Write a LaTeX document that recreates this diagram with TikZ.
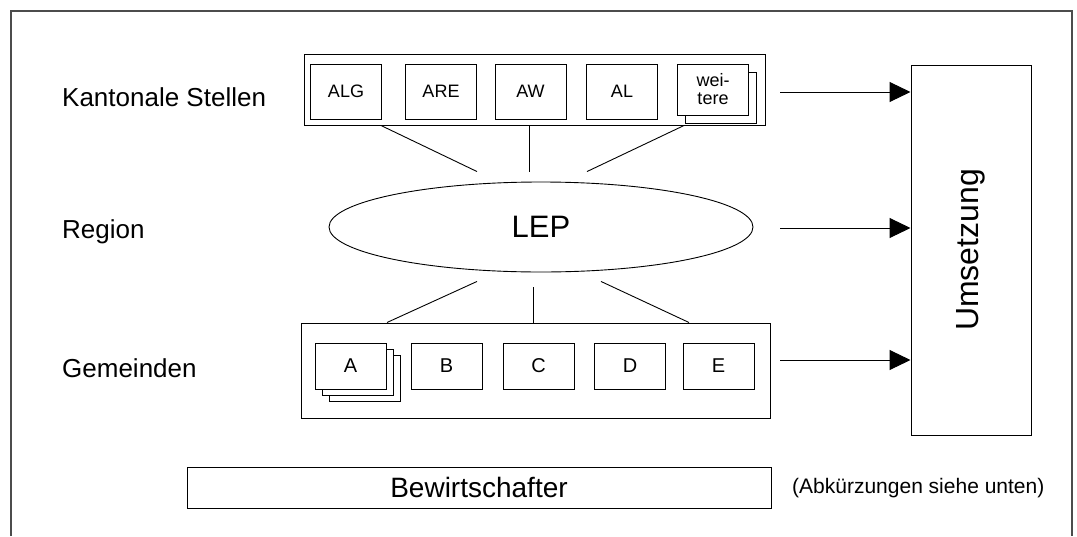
\documentclass[tikz,border=0pt]{standalone}
\usepackage{fontspec}
\setmainfont{Liberation Sans}
\usepackage{tikz}
\usetikzlibrary{shapes.geometric,arrows.meta,positioning}

\tikzset{
  frame/.style={draw=black!70, line width=1.8pt},
  group/.style={draw, line width=1pt, fill=white, inner sep=0pt},
  unit/.style={draw, line width=1pt, fill=white, inner sep=0pt,
    minimum width=71pt, minimum height=55pt, font=\fontsize{18}{19}\selectfont},
  gunit/.style={unit, minimum height=46pt, font=\fontsize{20}{22}\selectfont},
  level/.style={anchor=west, inner sep=0pt, font=\fontsize{26}{28}\selectfont},
  flow/.style={line width=1pt, -{Triangle[length=21pt,width=20pt]}},
  link/.style={line width=0.9pt}
}

\begin{document}
\begin{tikzpicture}[x=1pt, y=-1pt]
\useasboundingbox (0,0) rectangle (1077,536);
\draw[frame] (11,536) -- (11,11) -- (1072,11) -- (1072,536);

% level labels
\node[level] (lkst) at (62,97) {Kantonale Stellen};
\node[level] (lreg) at (62,232) {Region};
\node[level] (lgem) at (62,368) {Gemeinden};

% cantonal offices
\node[group, minimum width=461pt, minimum height=71pt] (kst) at (534.5,89.5) {};
\node[unit] (alg) at (346,91.5) {ALG};
\node[unit] (are) at (441,91.5) {ARE};
\node[unit] (aw)  at (530.5,91.5) {AW};
\node[unit] (al)  at (622,91.5) {AL};
\node[unit, minimum height=51pt] (weitere2) at (721,97.5) {};
\node[unit, minimum height=51pt, align=center] (weitere) at (713,89.5)
  {wei-\\[-1pt]tere};

% region
\node[draw, ellipse, line width=0.9pt, inner sep=0pt, minimum width=424pt,
  minimum height=90pt, font=\fontsize{31}{32}\selectfont] (lep) at (541,227) {LEP};

% municipalities
\node[group, minimum width=469pt, minimum height=95pt] (gem) at (535.5,370.5) {};
\node[gunit] (ga3) at (364.5,378.5) {};
\node[gunit] (ga2) at (357.5,372.5) {};
\node[gunit] (ga)  at (350.5,366) {A};
\node[gunit] (gb)  at (446.5,366) {B};
\node[gunit] (gc)  at (538.5,366) {C};
\node[gunit] (gd)  at (630,366) {D};
\node[gunit] (ge)  at (718.5,366) {E};

% implementation
\node[draw, line width=1pt, minimum width=120pt, minimum height=370pt,
  inner sep=0pt] (ums) at (971,250) {};
\node[rotate=90, font=\fontsize{32}{34}\selectfont] (umst) at (ums.center) {Umsetzung};

\node[draw, line width=1pt, minimum width=584pt, minimum height=41pt,
  inner sep=0pt, font=\fontsize{28}{30}\selectfont] (bew) at (479,487.5) {Bewirtschafter};
\node[anchor=west, inner sep=0pt, font=\fontsize{21}{23}\selectfont] (abk) at (792,488)
  {(Abkürzungen siehe unten)};

% links to LEP
\draw[link] ([xshift=-153.5pt]kst.south) -- ([xshift=-64pt,yshift=10pt]lep.north);
\draw[link] ([xshift=-5.5pt]kst.south) -- ([xshift=-12pt,yshift=10pt]lep.north);
\draw[link] ([xshift=149.5pt]kst.south) -- ([xshift=46pt,yshift=10pt]lep.north);
\draw[link] ([xshift=-64pt,yshift=-9pt]lep.south) -- ([xshift=-148.5pt]gem.north);
\draw[link] ([xshift=-8pt,yshift=-15pt]lep.south) -- ([xshift=-2.5pt]gem.north);
\draw[link] ([xshift=60pt,yshift=-9pt]lep.south) -- ([xshift=153.5pt]gem.north);

% arrows to Umsetzung
\coordinate (fk) at (780,92);
\coordinate (fr) at (780,228);
\coordinate (fg) at (780,360);
\draw[flow] (fk) -- (fk -| ums.west);
\draw[flow] (fr) -- (fr -| ums.west);
\draw[flow] (fg) -- (fg -| ums.west);

\end{tikzpicture}
\end{document}
